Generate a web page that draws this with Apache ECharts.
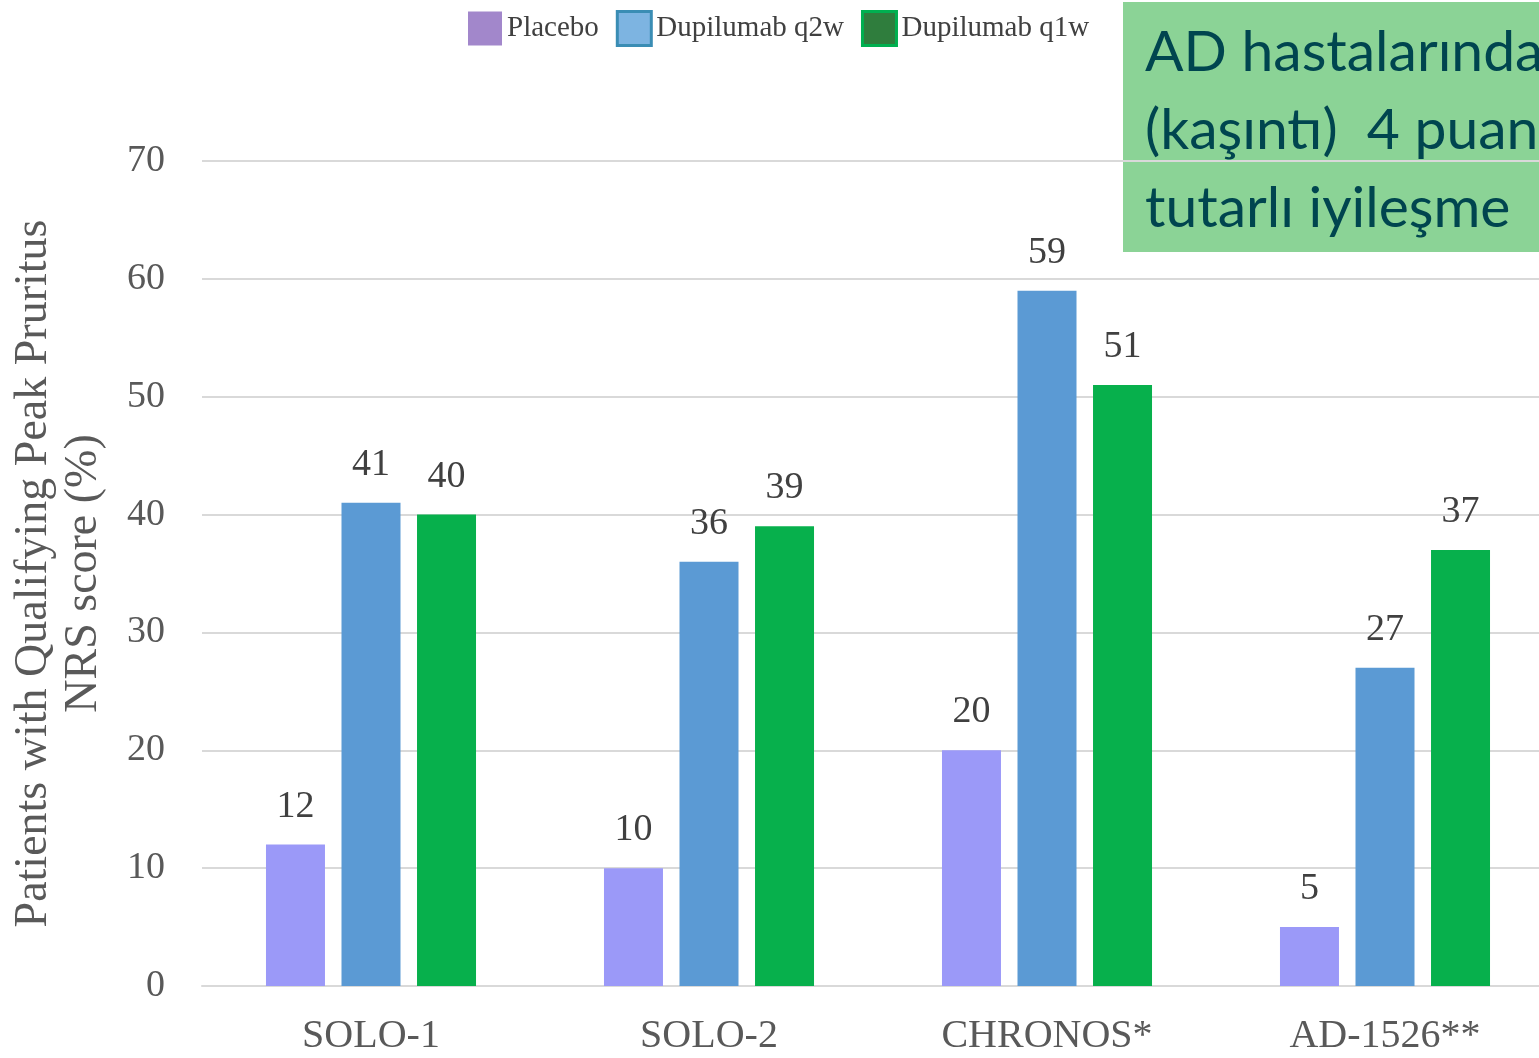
<!DOCTYPE html>
<html>
<head>
<meta charset="utf-8">
<title>Peak Pruritus NRS responders</title>
<script src="https://cdn.jsdelivr.net/npm/echarts@6/dist/echarts.min.js"></script>
<style>
  html, body { margin: 0; padding: 0; background: #ffffff; }
  #chart { width: 1539px; height: 1058px; }
</style>
</head>
<body>
<div id="chart"></div>
<script>
// Trials shown on the x axis
const studies = ['SOLO-1', 'SOLO-2', 'CHRONOS*', 'AD-1526**'];

// Share of patients (%) reaching the Peak Pruritus NRS improvement threshold
const placebo = [12, 10, 20, 5];
const dupilumabQ2w = [41, 36, 59, 27];
const dupilumabQ1w = [40, 39, 51, 37];

// Value axis ticks
const yTicks = [0, 10, 20, 30, 40, 50, 60, 70];

const seriesNames = ['Placebo', 'Dupilumab q2w', 'Dupilumab q1w'];

// Callout text in the green box (right edge runs off the page)
const calloutLines = ['AD hastalarında', '(kaşıntı)  4 puan', 'tutarlı iyileşme'];

const serif = '"Liberation Serif", "Times New Roman", serif';
const calloutFont = '57px Lato, "Noto Sans", sans-serif';

const chart = echarts.init(document.getElementById('chart'), null, { renderer: 'canvas' });

const labelStyle = {
  show: true,
  position: 'top',
  distance: 19,
  color: '#404040',
  fontFamily: serif,
  fontSize: 38
};

chart.setOption({
  backgroundColor: '#ffffff',
  animation: false,
  legend: {
    left: 463,
    top: 5,
    itemWidth: 34,
    itemHeight: 34,
    itemGap: 17,
    icon: 'rect',
    textStyle: { fontFamily: serif, fontSize: 29, color: '#404040' },
    data: [
      { name: seriesNames[0], itemStyle: { color: '#a287cb', borderWidth: 0 } },
      { name: seriesNames[1], itemStyle: { color: '#7db4e1', borderColor: '#3a8db4', borderWidth: 3 } },
      { name: seriesNames[2], itemStyle: { color: '#2f7d3d', borderColor: '#00b050', borderWidth: 3 } }
    ]
  },
  grid: {
    left: 202,
    top: 161,
    width: 1352,
    height: 825,
    containLabel: false,
    outerBoundsMode: 'none'
  },
  xAxis: {
    type: 'category',
    data: studies,
    axisLine: { lineStyle: { color: '#d9d9d9', width: 2 } },
    axisTick: { show: false },
    axisLabel: {
      margin: 30,
      color: '#595959',
      fontFamily: serif,
      fontSize: 40
    }
  },
  yAxis: {
    type: 'value',
    min: yTicks[0],
    max: yTicks[yTicks.length - 1],
    interval: yTicks[1] - yTicks[0],
    name: 'Patients with Qualifying Peak Pruritus\nNRS score (%)',
    nameLocation: 'middle',
    nameGap: 93,
    nameRotate: 90,
    nameTextStyle: {
      color: '#595959',
      fontFamily: serif,
      fontSize: 46,
      lineHeight: 50
    },
    axisLine: { show: false },
    axisTick: { show: false },
    axisLabel: {
      margin: 37,
      color: '#595959',
      fontFamily: serif,
      fontSize: 38
    },
    splitLine: { lineStyle: { color: '#d9d9d9', width: 2 } }
  },
  series: [
    {
      name: seriesNames[0],
      type: 'bar',
      data: placebo,
      barWidth: 59,
      barGap: '28%',
      itemStyle: { color: '#9b99f8' },
      label: labelStyle
    },
    {
      name: seriesNames[1],
      type: 'bar',
      data: dupilumabQ2w,
      barWidth: 59,
      barGap: '28%',
      itemStyle: { color: '#5b9ad4' },
      label: labelStyle
    },
    {
      name: seriesNames[2],
      type: 'bar',
      data: dupilumabQ1w,
      barWidth: 59,
      barGap: '28%',
      itemStyle: { color: '#07b04c' },
      label: labelStyle
    }
  ],
  graphic: [
    {
      type: 'group',
      z: 100,
      children: [
        {
          type: 'rect',
          shape: { x: 1123, y: 2, width: 430, height: 250 },
          style: { fill: '#8bd396' }
        }
      ].concat(calloutLines.map(function (line, i) {
        return {
          type: 'text',
          x: 1145,
          y: 53 + i * 78,
          style: {
            text: line,
            fill: '#00454f',
            font: calloutFont,
            textVerticalAlign: 'middle'
          }
        };
      }))
    }
  ]
});
</script>
</body>
</html>
